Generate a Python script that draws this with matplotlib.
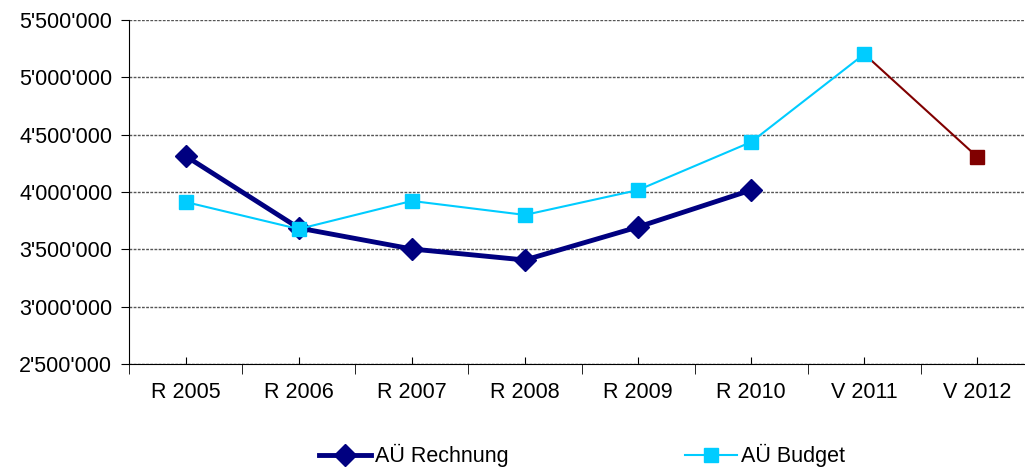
import matplotlib.pyplot as plt
import numpy as np
from matplotlib.ticker import FuncFormatter, FixedLocator

categories = ['R 2005', 'R 2006', 'R 2007', 'R 2008', 'R 2009', 'R 2010', 'V 2011', 'V 2012']
rechnung = [4314000, 3686000, 3503000, 3407000, 3695000, 4017000]
budget = [3913000, 3677000, 3922000, 3800000, 4017000, 4436000, 5203000]
voranschlag_2012 = 4305000

yticks = [2500000, 3000000, 3500000, 4000000, 4500000, 5000000, 5500000]

plt.rcParams['font.family'] = ['Liberation Sans', 'DejaVu Sans']
fs = 15.5

fig = plt.figure(figsize=(10.25, 4.7), dpi=100)
ax = fig.add_axes([129/1025, 1 - 364/470, 905/1025, 344/470])

x = np.arange(len(categories))

## budget line, last segment dark red
ax.plot(x[6:8], [budget[-1], voranschlag_2012], color='#800000', lw=1.5, zorder=2)
ax.plot(x[7], voranschlag_2012, marker='s', ms=10.5, color='#800000', ls='none', zorder=3)
ax.plot(x[:7], budget, color='#00CCFF', lw=1.5, marker='s', ms=10.5, label='AÜ Budget', zorder=3)
ax.plot(x[:6], rechnung, color='#000080', lw=3.5, marker='D', ms=11.5, label='AÜ Rechnung', zorder=2.5)

ax.set_xlim(-0.5, len(categories) - 0.5)
ax.set_ylim(2500000, 5500000)
ax.set_yticks(yticks)
ax.yaxis.set_major_formatter(FuncFormatter(lambda v, p: f'{int(v):,}'.replace(',', "'")))
ax.grid(axis='y', ls=(0, (2, 1)), color='#555555', lw=1)
ax.set_axisbelow(True)

ax.set_xticks(x)
ax.set_xticklabels(categories)
ax.xaxis.set_minor_locator(FixedLocator(np.arange(-0.5, len(categories), 1)))
ax.tick_params(axis='x', which='major', direction='in', length=5, pad=13, labelsize=fs)
ax.tick_params(axis='x', which='minor', direction='out', length=7)
ax.tick_params(axis='y', direction='out', length=6, labelsize=fs, pad=6)

for s in ['top', 'right']:
    ax.spines[s].set_visible(False)
for s in ['left', 'bottom']:
    ax.spines[s].set_color('black')

handles, labels = ax.get_legend_handles_labels()
fig.legend(handles[::-1], labels[::-1], loc='lower center', bbox_to_anchor=(0.568, -0.035), ncol=2,
           frameon=False, fontsize=fs, handlelength=2.4, columnspacing=8.2, handletextpad=0.2)

fig.savefig('out.png', dpi=100)
